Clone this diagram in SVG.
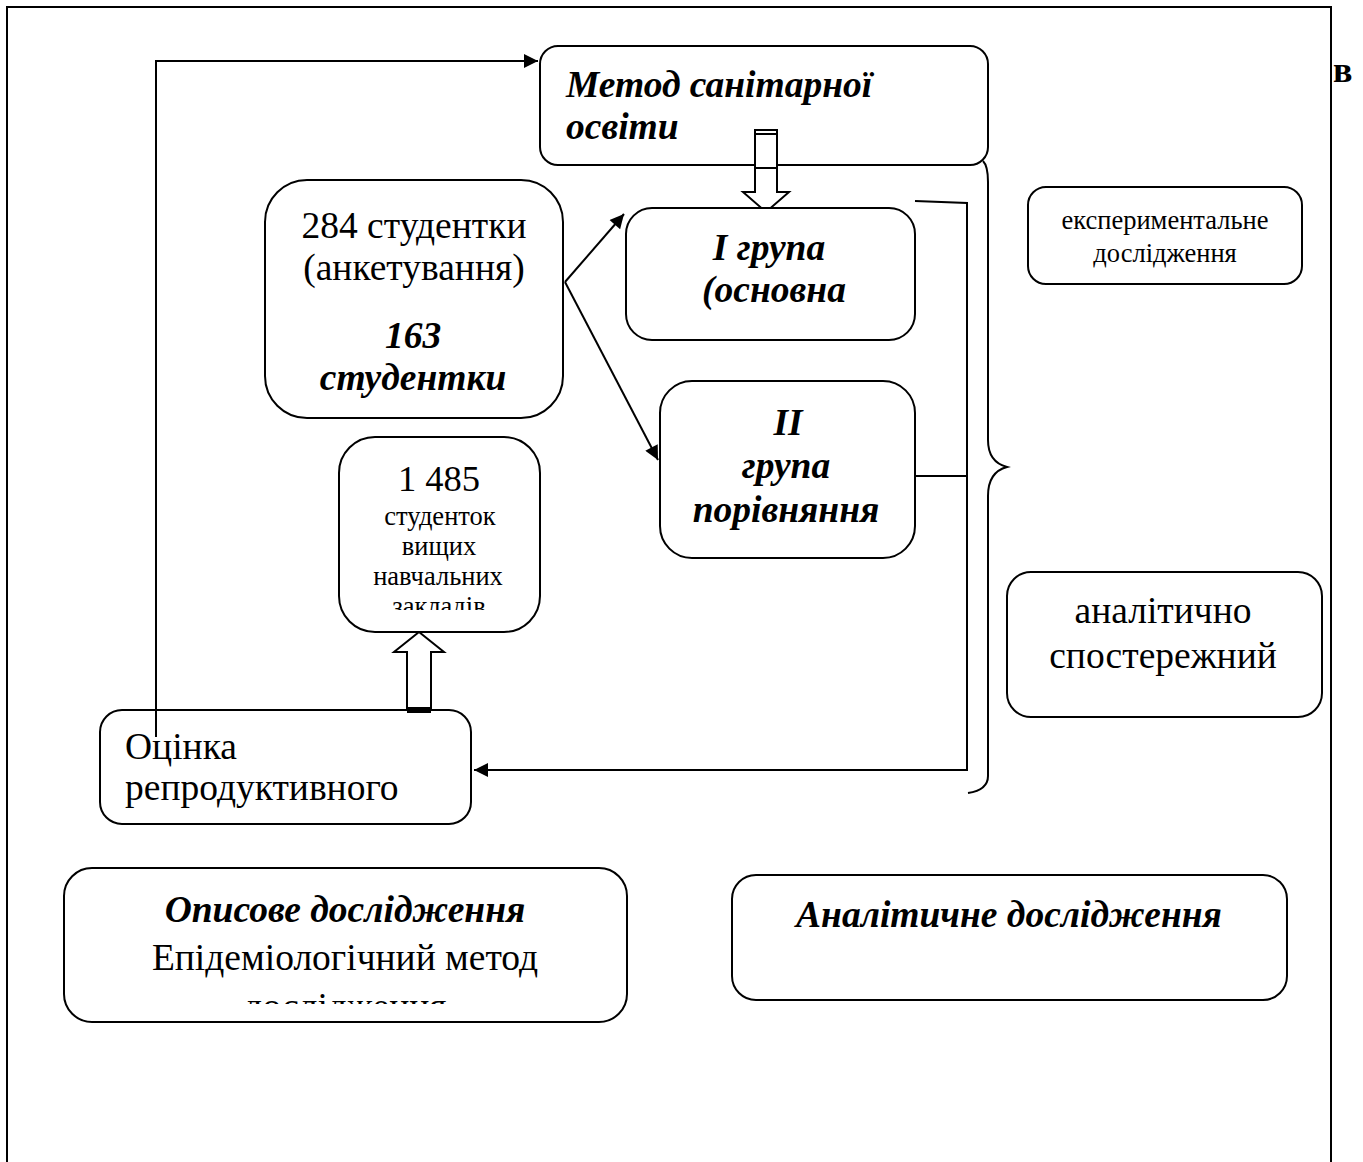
<svg xmlns="http://www.w3.org/2000/svg" width="1363" height="1162" viewBox="0 0 1363 1162">
<style>
.box{fill:#fff;stroke:#000;stroke-width:2}
.ln{fill:none;stroke:#000;stroke-width:2}
.t{font-family:"Liberation Serif","Times New Roman",serif;fill:#000}
.r35{font-size:37.5px}
.r24{font-size:26.5px}
.bi{font-size:37.5px;font-weight:bold;font-style:italic}
.c{text-anchor:middle}
</style>
<defs>
<marker id="ah" viewBox="0 0 10 10" refX="10" refY="5" markerWidth="9" markerHeight="7" orient="auto" markerUnits="strokeWidth">
<path d="M0,0 L10,5 L0,10 z" fill="#000"/>
</marker>
<clipPath id="c284"><rect x="265" y="180" width="298" height="218"/></clipPath>
<clipPath id="c1485"><rect x="339" y="437" width="201" height="173"/></clipPath>
<clipPath id="cop"><rect x="64" y="868" width="563" height="136"/></clipPath>
</defs>
<g id="frame">
<path class="ln" d="M7,1162 L7,7 L1331,7 L1331,1162"/>
<text class="t" x="1333" y="82" style="font-size:36px;font-weight:bold">в</text>
</g>
<g id="connectors">
<path class="ln" d="M156,737 L156,61 L538,61" marker-end="url(#ah)"/>
<path class="ln" d="M565,282 L624,214" marker-end="url(#ah)"/>
<path class="ln" d="M565,282 L658,460" marker-end="url(#ah)"/>
<path class="ln" d="M915,201 L967,203 L967,770 L474,770" marker-end="url(#ah)"/>
<path class="ln" d="M915,476 L967,476"/>
<path class="ln" d="M983,161 Q988,166 988,182 L988,440 Q988,462 1007,467 Q988,472 988,496 L988,776 Q988,790 968,793"/>
<g id="hollow-down">
<path class="ln" style="fill:#fff" d="M755,130 L755,192 L743,192 L766,212 L789,192 L777,192 L777,130 Z"/>
<path class="ln" d="M755,130 L777,130 M755,134 L777,134"/>
</g>
<g id="hollow-up">
<path class="ln" style="fill:#fff" d="M407,712 L407,652 L394,652 L419,632 L444,652 L431,652 L431,712 Z"/>
<path class="ln" d="M407,708 L431,708 M407,712 L431,712"/>
</g>
</g>
<g id="n-metod">
<rect class="box" x="540" y="46" width="448" height="119" rx="18"/>
<text class="t bi" x="566" y="97">Метод санітарної</text>
<text class="t bi" x="566" y="139">освіти</text>
</g>
<g id="hollow-down-top">
<path class="ln" style="fill:#fff" d="M755,130 L755,168 L777,168 L777,130 Z"/>
<path class="ln" d="M755,130 L777,130 M755,134 L777,134"/>
</g>
<g id="n-284">
<rect class="box" x="265" y="180" width="298" height="238" rx="42"/>
<g clip-path="url(#c284)">
<text class="t r35 c" x="414" y="238">284 студентки</text>
<text class="t r35 c" x="414" y="280">(анкетування)</text>
<text class="t bi c" x="413" y="348">163</text>
<text class="t bi c" x="413" y="390">студентки</text>
</g>
</g>
<g id="n-group1">
<rect class="box" x="626" y="208" width="289" height="132" rx="26"/>
<text class="t bi c" x="769" y="260">І група</text>
<text class="t bi c" x="774" y="302">(основна</text>
</g>
<g id="n-group2">
<rect class="box" x="660" y="381" width="255" height="177" rx="32"/>
<text class="t bi c" x="788" y="435">ІІ</text>
<text class="t bi c" x="786" y="478">група</text>
<text class="t bi c" x="786" y="522">порівняння</text>
</g>
<g id="n-1485">
<rect class="box" x="339" y="437" width="201" height="195" rx="36"/>
<g clip-path="url(#c1485)">
<text class="t c" x="439" y="491" style="font-size:36.5px">1 485</text>
<text class="t r24 c" x="440" y="525">студенток</text>
<text class="t r24 c" x="439" y="555">вищих</text>
<text class="t r24 c" x="438" y="585">навчальних</text>
<text class="t r24 c" x="439" y="615">закладів</text>
</g>
</g>
<g id="n-ocinka">
<rect class="box" x="100" y="710" width="371" height="114" rx="22"/>
<text class="t r35" x="125" y="759">Оцінка</text>
<text class="t r35" x="125" y="800">репродуктивного</text>
</g>
<path class="ln" d="M156,710 L156,737"/>
<g id="hollow-up-bottom">
<path class="ln" d="M407,708 L431,708 M407,712 L431,712"/>
</g>
<g id="n-exp">
<rect class="box" x="1028" y="187" width="274" height="97" rx="18"/>
<text class="t r24 c" x="1165" y="229">експериментальне</text>
<text class="t r24 c" x="1165" y="262">дослідження</text>
</g>
<g id="n-anal-spost">
<rect class="box" x="1007" y="572" width="315" height="145" rx="24"/>
<text class="t r35 c" x="1163" y="623">аналітично</text>
<text class="t r35 c" x="1163" y="668">спостережний</text>
</g>
<g id="n-opys">
<rect class="box" x="64" y="868" width="563" height="154" rx="28"/>
<g clip-path="url(#cop)">
<text class="t bi c" x="345" y="922">Описове дослідження</text>
<text class="t r35 c" x="345" y="970">Епідеміологічний метод</text>
<text class="t r35 c" x="345" y="1019">дослідження</text>
</g>
</g>
<g id="n-anal">
<rect class="box" x="732" y="875" width="555" height="125" rx="24"/>
<text class="t bi c" x="1009" y="927">Аналітичне дослідження</text>
</g>
</svg>
